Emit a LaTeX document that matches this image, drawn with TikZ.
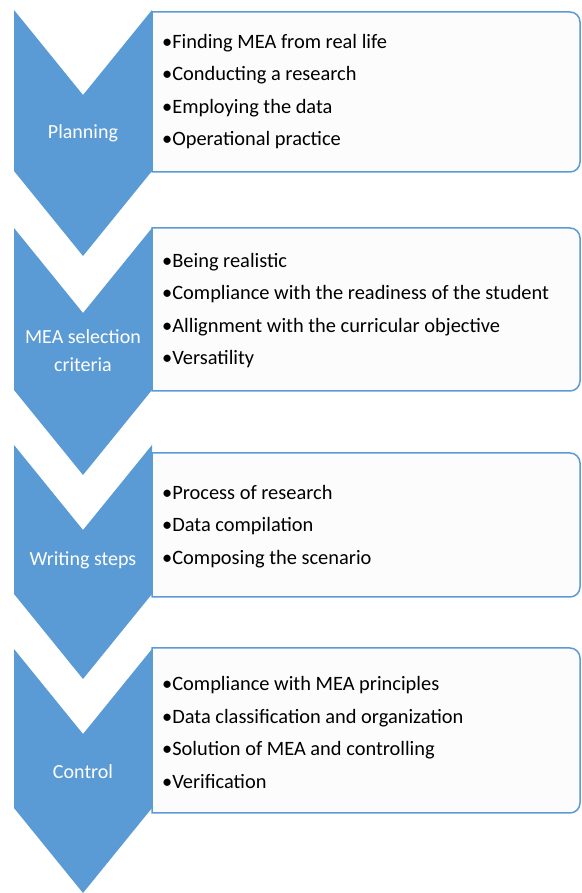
\documentclass[tikz,border=0pt]{standalone}
\usepackage{fontspec}
\setmainfont{Carlito}
\definecolor{meablue}{RGB}{91,155,213}
\definecolor{boxfill}{RGB}{252,252,252}
\begin{document}
\begin{tikzpicture}[
              x = 1pt, y = 1pt,
              chevron/.style = {fill = meablue},
              itembox/.style = {draw = meablue, line width = 1.5pt, fill = boxfill},
              items/.style = {anchor = west, align = left, inner sep = 0pt,
                              font = \fontsize{20.4}{32.5}\selectfont},
              stage/.style = {text = white, align = center, inner sep = 0pt,
                              font = \fontsize{20}{28}\selectfont}
            ]
            \useasboundingbox (0,0) rectangle (581,893);
            % the item boxes
            \draw[itembox] (152,881) -- (570,881) arc[start angle = 90, end angle = 0, radius = 10]
                           -- (580,731) arc[start angle = 0, end angle = -90, radius = 10] -- (152,721) -- cycle;
            \draw[itembox] (152,665) -- (570,665) arc[start angle = 90, end angle = 0, radius = 10]
                           -- (580,512) arc[start angle = 0, end angle = -90, radius = 10] -- (152,502) -- cycle;
            \draw[itembox] (152,440) -- (570,440) arc[start angle = 90, end angle = 0, radius = 10]
                           -- (580,306) arc[start angle = 0, end angle = -90, radius = 10] -- (152,296) -- cycle;
            \draw[itembox] (152,245) -- (570,245) arc[start angle = 90, end angle = 0, radius = 10]
                           -- (580,90) arc[start angle = 0, end angle = -90, radius = 10] -- (152,80) -- cycle;
            % the chevrons
            \fill[chevron] (14,883) -- (83,798) -- (152,883) -- (152,722) -- (83,637) -- (14,722) -- cycle;
            \fill[chevron] (14,665) -- (83,580) -- (152,665) -- (152,503) -- (83,418) -- (14,503) -- cycle;
            \fill[chevron] (14,448) -- (83,363) -- (152,448) -- (152,299) -- (83,214) -- (14,299) -- cycle;
            \fill[chevron] (14,244) -- (83,159) -- (152,244) -- (152,85)  -- (83,0)   -- (14,85)  -- cycle;
            % stage names
            \node[stage] (planning) at (83,760) {Planning};
            \node[stage] (criteria) at (83,542) {MEA selection\\criteria};
            \node[stage] (writing)  at (83,333) {Writing steps};
            \node[stage] (control)  at (83,121) {Control};
            % items
            \node[items] (planitems) at (162,801.5) {\textbullet Finding MEA from real life\\
                                                     \textbullet Conducting a research\\
                                                     \textbullet Employing the data\\
                                                     \textbullet Operational practice};
            \node[items] (crititems) at (162,582.5) {\textbullet Being realistic\\
                                                     \textbullet Compliance with the readiness of the student\\
                                                     \textbullet Allignment with the curricular objective\\
                                                     \textbullet Versatility};
            \node[items] (writitems) at (162,366.5) {\textbullet Process of research\\
                                                     \textbullet Data compilation\\
                                                     \textbullet Composing the scenario};
            \node[items] (contitems) at (162,160.5) {\textbullet Compliance with MEA principles\\
                                                     \textbullet Data classification and organization\\
                                                     \textbullet Solution of MEA and controlling\\
                                                     \textbullet Verification};
          \end{tikzpicture}
\end{document}
